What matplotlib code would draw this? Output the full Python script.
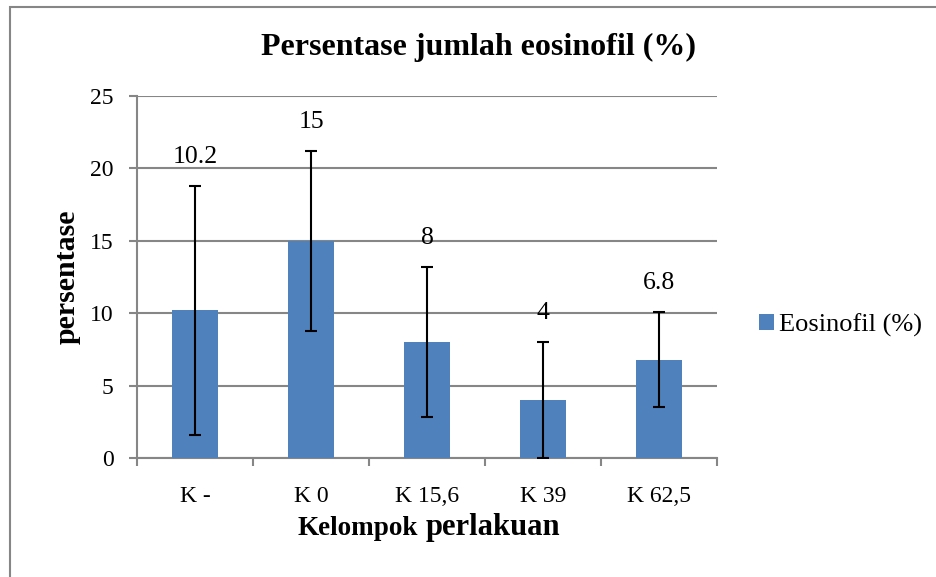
import numpy as np
import matplotlib.pyplot as plt
from matplotlib.patches import Rectangle

kelompok = ["K -", "K 0", "K 15,6", "K 39", "K 62,5"]
eosinofil = [10.2, 15, 8, 4, 6.8]
sd = [8.6, 6.2, 5.2, 4.0, 3.3]
labels = ["10.2", "15", "8", "4", "6.8"]

plt.rcParams['font.family'] = ['Liberation Serif', 'DejaVu Serif']

W, H = 937, 577
fig = plt.figure(figsize=(W / 100, H / 100), dpi=100)
ax = fig.add_axes([137 / W, 1 - 458 / H, 580 / W, 362 / H])

grey = '#868686'
blue = '#4F81BD'
x = np.arange(len(kelompok))

ax.bar(x, eosinofil, width=0.4, color=blue, zorder=3, label='Eosinofil (%)')
ax.errorbar(x, eosinofil, yerr=sd, fmt='none', ecolor='black', elinewidth=1.5,
            capsize=4, capthick=1.5, zorder=4)

for xi, v, e, t in zip(x, eosinofil, sd, labels):
    ax.annotate(t, (xi, v + e), xytext=(0, 21), textcoords='offset points',
                ha='center', va='center', fontsize=18.5)

ax.set_xlim(-0.5, 4.5)
ax.set_ylim(0, 25)
ax.set_yticks(range(0, 26, 5))
ax.yaxis.grid(True, color=grey, linewidth=1.5, zorder=0)
ax.set_axisbelow(True)

for s in ['top', 'right']:
    ax.spines[s].set_visible(False)
for s in ['left', 'bottom']:
    ax.spines[s].set_color(grey)
    ax.spines[s].set_linewidth(1.5)

ax.set_xticks(x)
ax.set_xticklabels(kelompok)
ax.set_xticks(np.arange(-0.5, 5, 1), minor=True)
ax.tick_params(axis='x', which='major', length=0, pad=20, labelsize=17)
ax.tick_params(axis='x', which='minor', length=6, width=1.5, color=grey)
ax.tick_params(axis='y', length=6, width=1.5, color=grey, pad=11, labelsize=17)

ax.set_ylabel('persentase', fontsize=21.5, fontweight='bold')
ax.yaxis.set_label_coords((81 - 137) / 580, 0.5)

fig.text(479 / W, 1 - 47 / H, 'Persentase jumlah eosinofil (%)', ha='center',
         va='center', fontsize=23, fontweight='bold')
fig.text(418 / W, 1 - 535 / H, 'Kelompok', ha='right', va='baseline',
         fontsize=19.5, fontweight='bold')
fig.text(426 / W, 1 - 535 / H, 'perlakuan', ha='left', va='baseline',
         fontsize=22, fontweight='bold')

ax.legend(loc='center left', bbox_to_anchor=(759 / W, 1 - 325 / H),
          bbox_transform=fig.transFigure, frameon=False, fontsize=19,
          handlelength=0.55, handleheight=0.55, handletextpad=0.2,
          borderpad=0, borderaxespad=0)

fig.patches.append(Rectangle((10 / W, -0.1), 1.2, 1.1 - 7 / H, transform=fig.transFigure,
                             fill=False, edgecolor=grey, linewidth=1.5))

fig.savefig('out.png', dpi=100)
